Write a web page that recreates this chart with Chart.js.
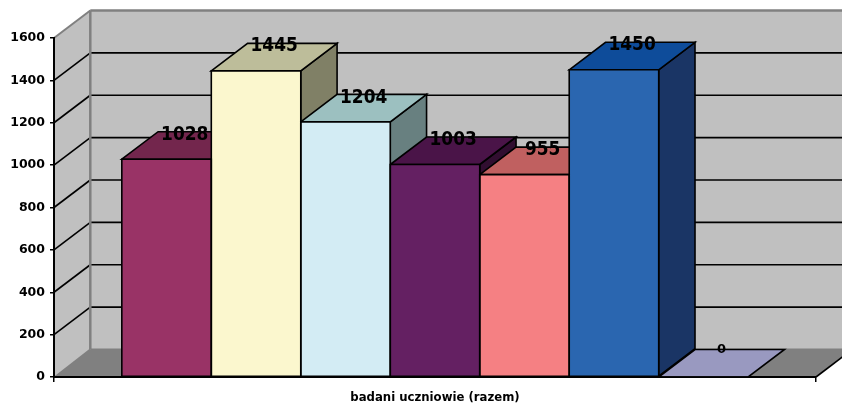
<!DOCTYPE html>
<html>
<head>
<meta charset="utf-8">
<script src="https://cdn.jsdelivr.net/npm/chart.js@4/dist/chart.umd.js"></script>
<style>html,body{margin:0;padding:0;background:#fff}canvas{display:block}</style>
</head>
<body>
<canvas id="c" width="842" height="403"></canvas>
<script>
// Values of the chart
const categories = ['badani uczniowie (razem)'];
const seriesValues = [1028, 1445, 1204, 1003, 955, 1450, 0];
const tickValues = [0, 200, 400, 600, 800, 1000, 1200, 1400, 1600];

// Face colours per bar
const frontColors = ['#993366', '#FBF7CE', '#D3ECF4', '#642062', '#F58083', '#2A66B0', '#9999C0'];
const topColors   = ['#73264D', '#BDBD9A', '#9CC0C0', '#4A1448', '#C06060', '#0E4C9A', '#9999C0'];
const sideColors  = ['#4D1A33', '#808066', '#688080', '#310E30', '#804040', '#1A3565', '#666680'];

// Oblique depth of the box
const DX = 36.3, DY = 27.5;
const FONT = '"DejaVu Sans", Verdana, sans-serif';
const WALL = '#C0C0C0', FLOOR = '#808080', EDGE = '#808080';
const LINE = 1.6;

function poly(ctx, pts, fill, stroke, width) {
  ctx.beginPath();
  pts.forEach((p, i) => i ? ctx.lineTo(p[0], p[1]) : ctx.moveTo(p[0], p[1]));
  ctx.closePath();
  if (fill) { ctx.fillStyle = fill; ctx.fill(); }
  if (stroke) { ctx.strokeStyle = stroke; ctx.lineWidth = width; ctx.lineJoin = 'miter'; ctx.stroke(); }
}

function seg(ctx, x1, y1, x2, y2, color, width) {
  ctx.beginPath();
  ctx.moveTo(x1, y1);
  ctx.lineTo(x2, y2);
  ctx.strokeStyle = color;
  ctx.lineWidth = width;
  ctx.stroke();
}

// Walls, floor and gridlines of the 3D box
const boxPlugin = {
  id: 'box',
  beforeDraw(chart) {
    const { ctx, chartArea: a, scales: { y } } = chart;
    const top = y.getPixelForValue(1600), base = y.getPixelForValue(0);
    ctx.save();
    poly(ctx, [[a.left, base], [a.left + DX, base - DY], [a.left + DX, top - DY], [a.left, top]], WALL);
    poly(ctx, [[a.left + DX, top - DY], [a.right + DX, top - DY], [a.right + DX, base - DY], [a.left + DX, base - DY]], WALL);
    poly(ctx, [[a.left, base], [a.right, base], [a.right + DX, base - DY], [a.left + DX, base - DY]], FLOOR);
    tickValues.forEach(v => {
      if (v === 0 || v === 1600) return;
      const py = y.getPixelForValue(v);
      seg(ctx, a.left, py, a.left + DX, py - DY, '#000', LINE);
      seg(ctx, a.left + DX, py - DY, a.right + DX, py - DY, '#000', LINE);
    });
    seg(ctx, a.left, top, a.left + DX, top - DY, EDGE, 2);
    seg(ctx, a.left + DX, top - DY, a.right + DX, top - DY, EDGE, 2.5);
    seg(ctx, a.left + DX, top - DY, a.left + DX, base - DY, EDGE, 2.5);
    seg(ctx, a.left + DX, base - DY, a.right + DX, base - DY, EDGE, 2);
    seg(ctx, a.left + 1, base, a.left + DX, base - DY, EDGE, 2);
    seg(ctx, a.right, base, a.right + DX, base - DY, '#000', LINE);
    ctx.restore();
  },
  // Top and side faces go under the fronts, painted left to right
  beforeDatasetsDraw(chart) {
    const ctx = chart.ctx;
    ctx.save();
    seriesValues.forEach((v, i) => {
      const b = chart.getDatasetMeta(i).data[0];
      const l = b.x - b.width / 2, r = b.x + b.width / 2, t = b.y, f = b.base;
      if (f - t > 0.5) {
        poly(ctx, [[r, t], [r + DX, t - DY], [r + DX, f - DY], [r, f]], sideColors[i], '#000', LINE);
      }
      poly(ctx, [[l, t], [l + DX, t - DY], [r + DX, t - DY], [r, t]], topColors[i], '#000', LINE);
    });
    ctx.restore();
  },
  // Front outlines and value labels; labels sit over the back of each top face
  afterDatasetsDraw(chart) {
    const ctx = chart.ctx;
    seriesValues.forEach((v, i) => {
      const b = chart.getDatasetMeta(i).data[0];
      const l = b.x - b.width / 2, r = b.x + b.width / 2;
      ctx.save();
      poly(ctx, [[l, b.y], [r, b.y], [r, b.base], [l, b.base]], null, '#000', LINE);
      ctx.restore();
    });
    seriesValues.forEach((v, i) => {
      const b = chart.getDatasetMeta(i).data[0];
      ctx.save();
      ctx.textAlign = 'center';
      ctx.textBaseline = 'middle';
      ctx.translate(b.x + DX / 2, b.y - DY + (v === 0 ? 0 : 3));
      if (v !== 0) ctx.scale(1, 1.16);
      ctx.font = (v === 0 ? 'bold 13px ' : 'bold 17px ') + FONT;
      ctx.fillStyle = '#000';
      ctx.fillText(String(v), 0, 0);
      ctx.restore();
    });
  }
};

new Chart(document.getElementById('c'), {
  type: 'bar',
  data: {
    labels: categories,
    datasets: seriesValues.map((v, i) => ({
      data: [v],
      backgroundColor: frontColors[i],
      borderWidth: 0,
      categoryPercentage: 0.822,
      barPercentage: 1
    }))
  },
  options: {
    responsive: false,
    animation: false,
    layout: { padding: { left: 0, right: 26, top: 38, bottom: 0 } },
    plugins: { legend: { display: false }, tooltip: { enabled: false } },
    scales: {
      x: {
        grid: { drawOnChartArea: false, color: '#000', tickLength: 5, lineWidth: 1.5 },
        border: { color: '#000', width: 2 },
        ticks: { color: '#000', padding: 9, maxRotation: 0, font: { family: FONT, size: 11.7, weight: 'bold' } },
        afterFit(s) { s.height = 26; }
      },
      y: {
        min: 0,
        max: 1600,
        afterBuildTicks(s) { s.ticks = tickValues.map(value => ({ value })); },
        grid: { drawOnChartArea: false, color: '#000', tickLength: 4, lineWidth: 1.5 },
        border: { color: '#000', width: 2 },
        ticks: {
          color: '#000',
          padding: 5,
          font: { family: FONT, size: 12.5, weight: 'bold' },
          callback: v => String(v)
        },
        afterFit(s) { s.width = 54; }
      }
    }
  },
  plugins: [boxPlugin]
});
</script>
</body>
</html>
